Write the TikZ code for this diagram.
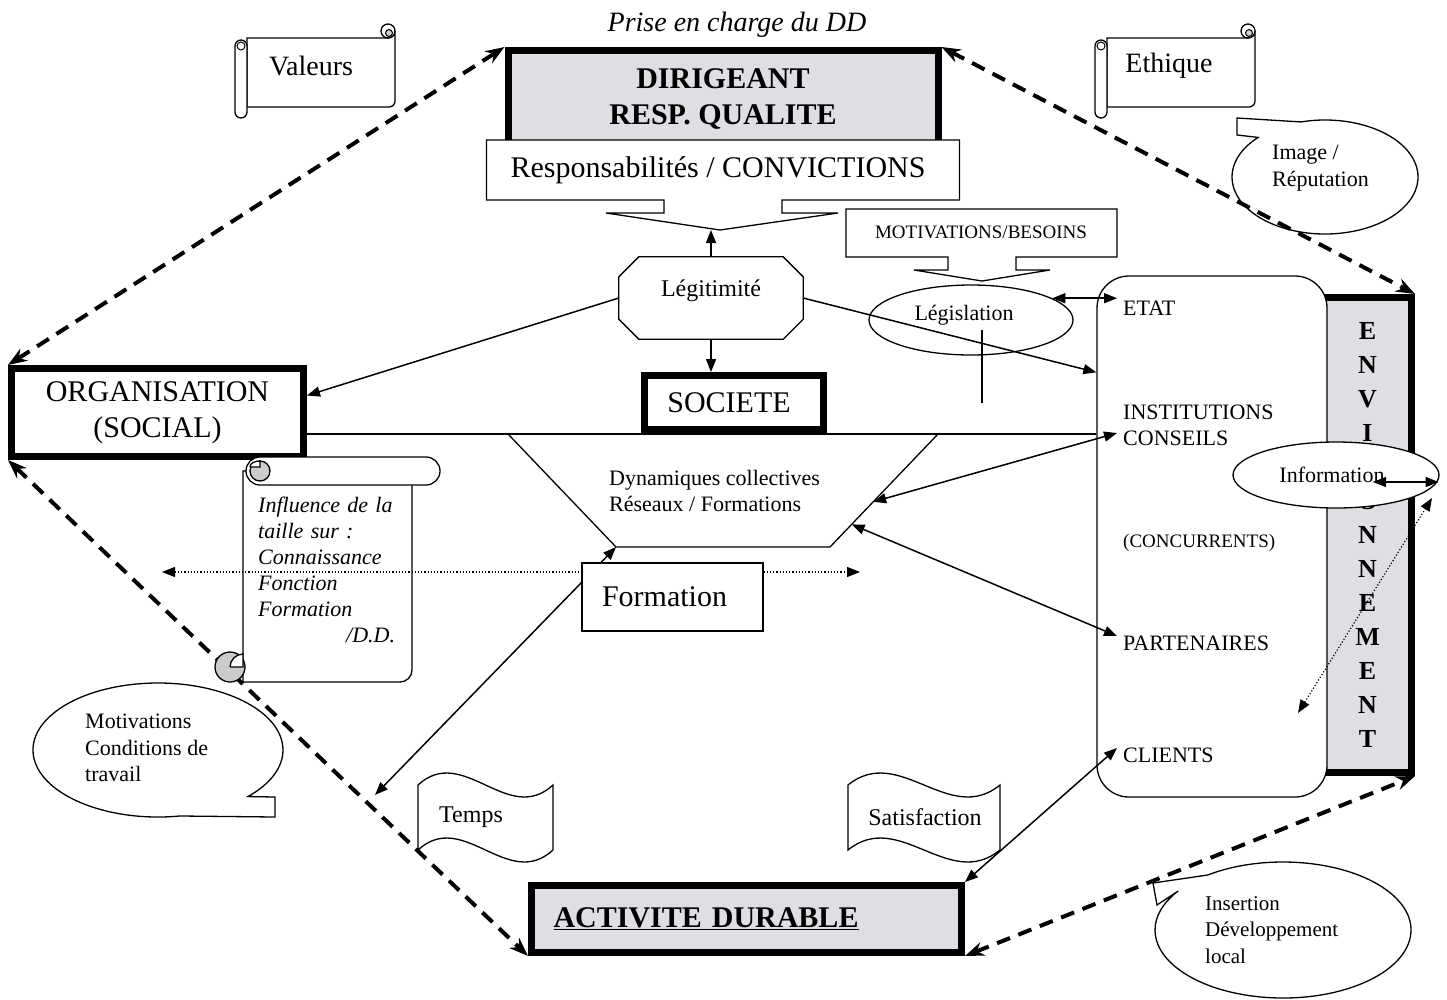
\documentclass[tikz,border=0pt]{standalone}
\usepackage{fontspec}
\setmainfont{Liberation Serif}
\usetikzlibrary{arrows.meta,calc,shapes.geometric,positioning}
\definecolor{marble}{RGB}{222,223,226}

\begin{document}
\begin{tikzpicture}[x=1pt,y=-1pt,
% Boxes style
    heavy/.style={rectangle,draw,line width=7pt,fill=white,align=center,
		font=\fontsize{30}{36}\selectfont},
    stone/.style={heavy,fill=marble,font=\fontsize{30}{36}\selectfont\bfseries},
    plain/.style={rectangle,draw,line width=1.3pt,fill=white,
		font=\fontsize{30}{36}\selectfont},
    bubble/.style={ellipse,draw,line width=1.3pt,inner sep=0pt,
		font=\fontsize{22}{26}\selectfont},
    outline/.style={draw,line width=1.3pt,fill=white},
% Text style
    txt/.style={inner sep=0pt,align=left,font=\fontsize{22}{26}\selectfont},
% Arrows style
    >={Triangle[length=13pt,width=10pt]},
    link/.style={line width=1.5pt,<->},
    push/.style={line width=1.5pt,->},
    dashlink/.style={line width=4pt,dash pattern=on 14pt off 9pt,
		{Stealth[length=19pt,width=14pt]}-{Stealth[length=19pt,width=14pt]}},
    dotlink/.style={line width=1.2pt,dotted,<->}
    ]
    \useasboundingbox (0,0) rectangle (1447,999);

%% Callouts
    \draw[outline] ($(1325,177)+(255:93 and 57)$)
		arc[start angle=255,end angle=584,x radius=93,y radius=57]
		-- (1237,135) -- (1237,118) -- cycle;
    \node (img) at (1272,168.5) [txt,font=\fontsize{22}{27}\selectfont,
		anchor=west] {Image /\\Réputation};
    \draw[outline] ($(158,750)+(80:125 and 67)$)
		arc[start angle=80,end angle=404,x radius=125,y radius=67]
		-- (275,797) -- (275,817) -- cycle;
    \node (mot) at (85,748) [txt,font=\fontsize{22}{26.5}\selectfont,
		anchor=west] {Motivations\\Conditions de\\travail};
    \draw[outline] ($(1283,930)+(234:128 and 68)$)
		arc[start angle=234,end angle=575,x radius=128,y radius=68]
		-- (1157,905) -- (1153,883) -- cycle;
    \node (ins) at (1205,930) [txt,font=\fontsize{21}{26.5}\selectfont,
		anchor=west] {Insertion\\Développement\\local};

%% Scrolls
    \begin{scope}[shift={(235,26)}]
	\draw[outline] (12,12) -- (153,12) .. controls (156.9,12) and (160,8.9) .. (160,5)
		-- (160,75) .. controls (160,78.3) and (157.3,81) .. (154,81) -- (12,81) -- cycle;
	\draw[outline] (153,5) circle (7);
	\draw[fill=black!20,line width=1pt] (154,7) circle (3.5);
	\draw[outline,rounded corners=6pt] (0,14) rectangle (12,92);
	\draw[line width=1pt] (6,20) circle (4);
    \end{scope}
    \node (val) at (311,66) [font=\fontsize{28}{32}\selectfont] {Valeurs};
    \begin{scope}[shift={(1095,26)}]
	\draw[outline] (12,12) -- (153,12) .. controls (156.9,12) and (160,8.9) .. (160,5)
		-- (160,75) .. controls (160,78.3) and (157.3,81) .. (154,81) -- (12,81) -- cycle;
	\draw[outline] (153,5) circle (7);
	\draw[fill=black!20,line width=1pt] (154,7) circle (3.5);
	\draw[outline,rounded corners=6pt] (0,14) rectangle (12,92);
	\draw[line width=1pt] (6,20) circle (4);
    \end{scope}
    \node (eth) at (1169,66) [font=\fontsize{28}{32}\selectfont] {Ethique};

%% Top boxes
    \node (prise) at (737,25) [font=\fontsize{28}{32}\selectfont\itshape]
		{Prise en charge du DD};
    \node (dirig) at (723,98.5) [stone,minimum width=430pt,minimum height=96pt]
		{DIRIGEANT\\RESP. QUALITE};
    \draw[outline] (486.5,140) -- (959.5,140) -- (959.5,200) -- (782,200)
		-- (782,213) -- (838,213) -- (720,230) -- (606,213) -- (664,213)
		-- (664,200) -- (486.5,200) -- cycle;
    \node (resp) at (718,170) [font=\fontsize{30}{36}\selectfont]
		{Responsabilités / CONVICTIONS};
    \draw[outline] (846,209) -- (1117,209) -- (1117,257) -- (1016,257)
		-- (1016,270) -- (1050,270) -- (982,281) -- (914,270) -- (948,270)
		-- (948,257) -- (846,257) -- cycle;
    \node (motiv) at (981,232) [font=\fontsize{19}{23}\selectfont]
		{MOTIVATIONS/BESOINS};
    \coordinate (tipresp) at (711,230);

%% Legitimite
    \node (legit) at (711,298) [minimum width=184pt,minimum height=82pt,
		font=\fontsize{24}{28}\selectfont] {\raisebox{2pt}[0pt][0pt]{Légitimité}};
    \draw[line width=1.3pt] ($(legit.north west)+(20,0)$) -- ($(legit.north east)+(-20,0)$)
		-- ($(legit.north east)+(0,20)$) -- ($(legit.south east)+(0,-20)$)
		-- ($(legit.south east)+(-20,0)$) -- ($(legit.south west)+(20,0)$)
		-- ($(legit.south west)+(0,-20)$) -- ($(legit.north west)+(0,20)$) -- cycle;

%% Main boxes
    \node (org) at (157.5,412.5) [heavy,minimum width=292pt,minimum height=88pt]
		{ORGANISATION\\(SOCIAL)};
    \node (soc) at (734,402.5) [heavy,minimum width=179pt,minimum height=54pt]
		{\hspace*{-10pt}SOCIETE};
    \node (env) at (1367.5,535) [stone,minimum width=88pt,minimum height=475pt,
		font=\fontsize{26}{34}\selectfont\bfseries]
		{E\\N\\V\\I\\R\\O\\N\\N\\E\\M\\E\\N\\T};
    \node (actors) at (1212,536.5) [draw,line width=1.3pt,fill=white,
		rounded corners=32pt,minimum width=230pt,minimum height=521pt] {};
    \node (etat) at (1123,308) [txt,anchor=west] {ETAT};
    \node (inst) at (1123,425) [txt,anchor=west] {INSTITUTIONS\\CONSEILS};
    \node (conc) at (1123,543) [txt,anchor=west,font=\fontsize{19}{23}\selectfont]
		{(CONCURRENTS)};
    \node (part) at (1123,643) [txt,anchor=west] {PARTENAIRES};
    \node (cli) at (1123,755) [txt,anchor=west] {CLIENTS};
    \node (leg) at (971,320) [bubble,minimum width=204pt,minimum height=70pt]
		{\smash{Législation}\hspace*{14pt}};
    \draw[line width=1.3pt] ($(leg.center)+(11,10)$) -- ++(0,73);
    \node (act) at (746.5,919) [stone,minimum width=430pt,minimum height=67pt,
		text width=386pt,inner xsep=22pt,align=left] {\underline{ACTIVITE DURABLE}};

%% Flags
    \draw[outline] (418,785) .. controls (463,743.5) and (508,826.5) .. (553,785)
		-- (553,850) .. controls (508,891.5) and (463,808.5) .. (418,850) -- cycle;
    \node (tps) at (471,817) [font=\fontsize{24}{28}\selectfont] {Temps};
    \draw[outline] (848,785) .. controls (899,743.5) and (949,826.5) .. (1000,785)
		-- (1000,850) .. controls (949,891.5) and (899,808.5) .. (848,850) -- cycle;
    \node (sat) at (925,817) [font=\fontsize{24}{28}\selectfont] {Satisfaction};

%% Collective dynamics
    \coordinate (hl) at (0,434);
    \coordinate (tz1) at (508,434);
    \coordinate (tz2) at (616,547);
    \coordinate (tz3) at (830,547);
    \coordinate (tz4) at (938,434);
    \draw[line width=1.3pt] (org.east |- hl) -- (actors.west |- hl);
    \draw[line width=1.3pt] (tz1) -- (tz2) -- (tz3) -- (tz4);
    \node (dyn) at (609,491) [txt,anchor=west]
		{Dynamiques collectives\\Réseaux / Formations};
    \coordinate (fa) at (375,795);

%% Arrows
    \draw[push] (legit.west) -- ($(org.east)+(0,-17)$);
    \draw[push] (legit.east) -- ($(actors.north west)+(0,97)$);
    \draw[push] (legit.north) -- (tipresp);
    \draw[push] (legit.south) -- (legit.south |- soc.north);
    \draw[link] (leg.15) -- ($(leg.15 -| etat.west)+(-6,0)$);
    \draw[link] ($(tz3)!0.4!(tz4)$) -- ($(inst.west)+(-6,8)$);
    \draw[link] ($(tz3)!0.2!(tz4)$) -- ($(part.west)+(-6,-7)$);
    \draw[link] (act.north east) -- ($(cli.west)+(-6,-7)$);
    \draw[link] (tz2) -- (fa);
    \draw[dashlink] (org.north west) -- (dirig.north west);
    \draw[dashlink] (dirig.north east) -- (env.north east);
    \draw[dashlink] (org.south west) -- (act.south west);
    \draw[dashlink] (act.south east) -- (env.south east);

%% Size scroll
    \draw[outline] (243,471) -- (243,682) -- (400,682) .. controls (406.6,682) and (412,676.6) .. (412,670)
		-- (412,471) -- cycle;
    \draw[outline,rounded corners=14pt] (246,457) rectangle (440,485);
    \draw[fill=black!20,line width=1.3pt] (260,471) circle (10);
    \draw[fill=white,line width=1.3pt] (250,467) -- (260,467) -- (260,461)
		.. controls (255,461) and (250,463) .. (250,467);
    \draw[fill=black!20,line width=1.3pt] (230,667) circle (15);
    \draw[fill=white,line width=1.3pt] (230,667) -- (243,667) -- (243,654)
		.. controls (236,654) and (230,660) .. (230,667);
    \node (infl) at (258,570) [txt,anchor=west,text width=150pt,
		font=\fontsize{22}{26}\selectfont\itshape]
		{Influence de la\\taille sur :\\Connaissance\\Fonction\\Formation\\\hspace*{88pt}/D.D.};

%% Training
    \coordinate (dl) at (162,572);
    \coordinate (dr) at (860,572);
    \draw[dotlink] (dl) -- (dr);
    \node (form) at (672.5,597) [plain,minimum width=181pt,minimum height=68pt]
		{Formation\hspace*{16pt}};

%% Information
    \node (info) at (1336,475) [bubble,fill=white,minimum width=206pt,minimum height=66pt]
		{Information\hspace*{8pt}};
    \draw[link] ($(info.center)+(37,7)$) -- ($(info.east)+(-1,7)$);
    \coordinate (ea) at (1298,713);
    \coordinate (eb) at (1432,498);
    \draw[dotlink] (ea) -- (eb);

\end{tikzpicture}
\end{document}
